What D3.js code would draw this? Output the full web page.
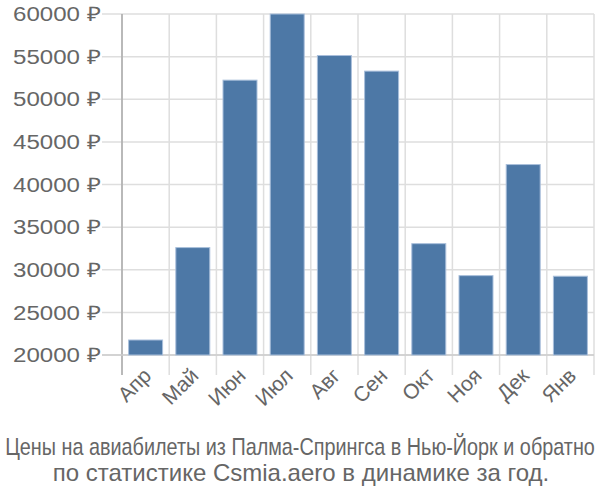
<!DOCTYPE html>
<html><head><meta charset="utf-8">
<script src="https://cdn.jsdelivr.net/npm/d3@7"></script>
<style>body{margin:0;background:#fff}svg{display:block}text{font-family:"Liberation Sans",Arial,sans-serif}</style>
</head><body>
<svg id="c" width="600" height="500"></svg>
<script>
const months = ["Апр","Май","Июн","Июл","Авг","Сен","Окт","Ноя","Дек","Янв"];
const prices = [21760, 32600, 52240, 60000, 55130, 53300, 33060, 29310, 42340, 29240];
const yTicks = [20000,25000,30000,35000,40000,45000,50000,55000,60000];
const titleLines = ["Цены на авиабилеты из Палма-Спрингса в Нью-Йорк и обратно","по статистике Csmia.aero в динамике за год."];

const svg = d3.select("#c");
const L = 122, R = 594, T = 14, B = 355;
const x = d3.scaleBand().domain(months).range([L, R]).paddingInner(0.28).paddingOuter(0.14);
const y = d3.scaleLinear().domain([20000, 60000]).range([B, T]);
const grid = "#dedede", txt = "#666";

// horizontal grid
svg.append("g").selectAll("line").data(yTicks).join("line")
  .attr("x1", L - 20).attr("x2", R).attr("y1", d => y(d)).attr("y2", d => y(d))
  .attr("stroke", grid).attr("stroke-width", 1.5);
// vertical grid
const vx = d3.range(months.length + 1).map(i => L + i * (R - L) / months.length);
svg.append("g").selectAll("line").data(vx).join("line")
  .attr("x1", d => d).attr("x2", d => d).attr("y1", T).attr("y2", B + 20)
  .attr("stroke", grid).attr("stroke-width", 1.5);
// axis lines
svg.append("line").attr("x1", L).attr("x2", L).attr("y1", T).attr("y2", B + 20).attr("stroke", "#aaa").attr("stroke-width", 1.5);
svg.append("line").attr("x1", L - 20).attr("x2", R).attr("y1", B).attr("y2", B).attr("stroke", "#ccc").attr("stroke-width", 1.5);

// y labels
svg.append("g").selectAll("text").data(yTicks).join("text")
  .attr("x", L - 21).attr("y", d => y(d)).attr("dy", "0.36em")
  .attr("text-anchor", "end").attr("fill", txt).attr("font-size", 20)
  .attr("textLength", 88).attr("lengthAdjust", "spacingAndGlyphs")
  .text(d => d + " ₽");

// bars
svg.append("g").selectAll("rect").data(months).join("rect")
  .attr("x", d => x(d)).attr("width", x.bandwidth())
  .attr("y", (d, i) => y(prices[i])).attr("height", (d, i) => B - y(prices[i]))
  .attr("fill", "#4d78a6").attr("stroke", "#a9bfdb").attr("stroke-width", 1);

// x labels
svg.append("g").selectAll("text").data(months).join("text")
  .attr("transform", d => `translate(${x(d) + x.bandwidth() / 2 + 7},${B + 22}) rotate(-45)`)
  .attr("text-anchor", "end").attr("fill", txt).attr("font-size", 21)
  .text(d => d);

// title
const t1 = svg.append("text").attr("text-anchor", "middle")
  .attr("fill", txt).attr("font-size", 24).text(titleLines[0]);
const len1 = t1.node().getComputedTextLength();
const sx = Math.min(1, 590 / len1);
t1.attr("transform", `translate(300,455) scale(${sx},1)`);
svg.append("text").attr("x", 301).attr("y", 481).attr("text-anchor", "middle")
  .attr("fill", txt).attr("font-size", 24).text(titleLines[1]);
</script>
</body></html>
